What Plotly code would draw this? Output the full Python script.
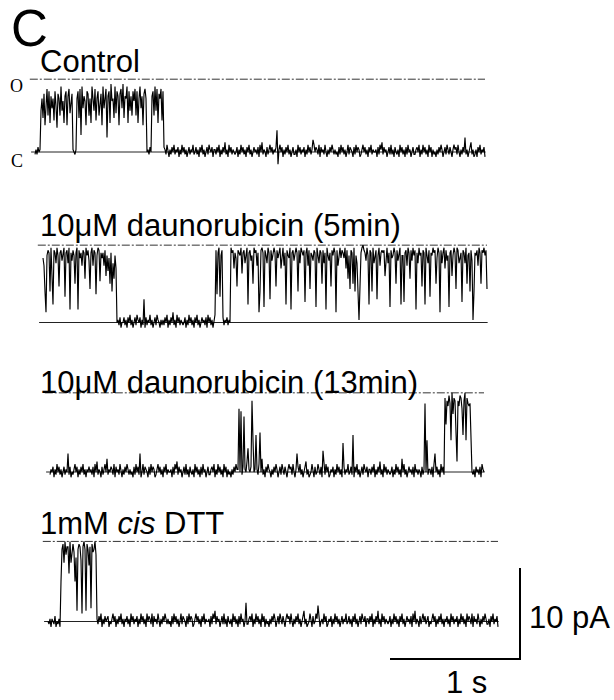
import plotly.graph_objects as go

# ---------------- data ----------------
LABELS = ["Control", "10μM daunorubicin (5min)", "10μM daunorubicin (13min)", "1mM <i>cis</i> DTT"]
OPEN_PA = [8.0, 8.5, 8.7, 8.8]          # unitary open level of each record, pA
SAMPLE_DT = 1 / 130                      # s between samples
# each character = one sample; base-36 code, 5 = closed, 35 = fully open
CODE = "0123456789abcdefghijklmnopqrstuvwxyz"
CLOSED_CODE, OPEN_CODE = 5, 35

TRACE_CONTROL = [
    "464756mrjtgqvkuhsnri", "uoftrkwmqhsugsvlpt65", "46rujvcwnsqgutkrhwom",
    "virukrtgwnqvbsuhxqrj", "wlusgtvnxjsrwhumskuq", "vkuhrwnsgtvr56475suk",
    "wmvhtrviu76485364758", "46573648574635746584", "57463758463574865736",
    "64758364759463857465", "45736485746375846357", "56473859465374685746",
    "57e06857364758463574", "463857465736485746a8", "57648375648536475864",
    "64537485746358476537", "48576346857463758465", "56374869475635748463",
    "75463857463748563574", "46758364857463857364", "53647586357486475368",
    "6748536475b463579463", "46375846573",
]
TRACE_DAUNO_5 = [
    "urh9vxwhyqcxwsyvjwxt", "vyfwxsyawtxvkwyaxuwr", "xwmyvxtiwyrxwgvyxlwu",
    "wrxnvpukwhsmvq564735", "57463758463574865736", "4e374658463574865364",
    "64758364759463857465", "45736485746375846357", "5647385746358xgwyfvx",
    "74657465ywxqwujxwvyo", "wxsvycwxtvkywxrw9hxy", "wbxvsywextvywjxuwyqv",
    "yrwcxvuyawxtvywhxsyw", "vxdwyrxiwvtxwbyvsxwk", "xswayvtwjxvyw9xrwyux",
    "wuyqxmvixwkyhvsc6jwy", "zxwtyvcxwhyswxevyrwx", "wxnvyswbxuvywkxtwycv",
    "vdwxrywmxtyvxawsyvwj", "xwcyvsxfwvywxkuyw9xs", "wyqxtvbwxnvywiyxsvwd",
    "xwsykvwhxt6hwvxrywkx", "wyvxi",
]
TRACE_DAUNO_13 = [
    "465736485746357465c4", "73546857364758463657", "56473859465374685a46",
    "57648375648536475864", "6453748574c358476537", "48576346857463758465",
    "56374869475635748463", "75463857463748563574", "46758364857463857364",
    "536475866t5s47q659e6", "57wh56j648k5a4637586", "53647586357486475368",
    "6748536c758463579463", "4586374586473d648573", "4657364857463g746584",
    "574j3758463574865736", "64758364759463857465", "457364857463a5846357",
    "564738564653746v5h46", "64738c574638574xnwuy", "vhzrxwk9wuyxtjwzhxvu",
    "vg5463756473865",
]
TRACE_DTT = [
    "5463654735463kwyrzux", "xnzrwyvkt9wyxs8xzw9y", "wqxayvwzu64758364756",
    "73546857364758463657", "46385746573648574638", "57648375648536475864",
    "64537485746358476537", "48576346857463758465", "56374869475635748463",
    "754638574637485635c4", "46758364857463857364", "53647586357486475368",
    "67485364758463579463", "4586374586b735648573", "46573648574635746584",
    "57463758463574865736", "64758364759463857465", "45736485746375846357",
    "56473859465374685746", "73546857364758463657", "46385746573648574638",
    "57648375648536475864", "46375846573",
]
TRACES = [TRACE_CONTROL, TRACE_DAUNO_5, TRACE_DAUNO_13, TRACE_DTT]

SCALE_T = 1.0     # s
SCALE_I = 10.0    # pA

# ---------------- layout (pixel geometry of the page) ----------------
W, H = 614, 700
PX_PER_S = 130.0
PX_PER_PA = 9.1
START_PX = [35, 43, 50, 48]          # left end of each record
BASE_PX = [152, 322.5, 472, 621.5]   # closed level of each record
LABEL_Y_PX = [61, 225.5, 382.5, 523]

def px_to_s(px):
    return px / PX_PER_S

def py_to_pa(py):
    return (H - py) / PX_PER_PA

fig = go.Figure()

for k, chunks in enumerate(TRACES):
    codes = "".join(chunks)
    frac = [(CODE.index(c) - CLOSED_CODE) / (OPEN_CODE - CLOSED_CODE) for c in codes]
    t0 = px_to_s(START_PX[k])
    base = py_to_pa(BASE_PX[k])
    t = [t0 + i * SAMPLE_DT for i in range(len(frac))]
    y = [base + f * OPEN_PA[k] for f in frac]
    t_end = t[-1]
    fig.add_trace(go.Scatter(x=[t0 - 0.03, t_end + 0.005], y=[base, base], mode="lines",
                             line=dict(color="#222", width=1), hoverinfo="skip"))
    fig.add_trace(go.Scatter(x=[t0 - 0.04, t_end], y=[base + OPEN_PA[k]] * 2, mode="lines",
                             line=dict(color="#333", width=1, dash="8px,2px,2px,2px"),
                             hoverinfo="skip"))
    fig.add_trace(go.Scatter(x=t, y=y, mode="lines", line=dict(color="black", width=1.15),
                             hoverinfo="skip"))

# scale bars
bar_x = px_to_s(520)
bar_y = py_to_pa(659)
fig.add_trace(go.Scatter(x=[bar_x - SCALE_T, bar_x, bar_x], y=[bar_y, bar_y, bar_y + SCALE_I],
                         mode="lines", line=dict(color="black", width=2), hoverinfo="skip"))

SANS = "Liberation Sans, Arial, sans-serif"
SERIF = "Liberation Serif, Times New Roman, serif"

def ann(text, xpx, ypx, size, family=SANS, xanchor="left"):
    fig.add_annotation(text=text, x=xpx / W, y=1 - ypx / H,
                       xref="paper", yref="paper",
                       xanchor=xanchor, yanchor="middle", showarrow=False,
                       font=dict(family=family, size=size, color="black"))

ann("C", 9, 29, 51)
for k, lab in enumerate(LABELS):
    ann(lab, 38, LABEL_Y_PX[k], 31)
ann("O", 16.5, 86, 18, SERIF, "center")
ann("C", 16.5, 161, 18, SERIF, "center")
ann("10 pA", 527, 617, 31)
ann("1 s", 444, 682, 31)

fig.update_layout(
    width=W, height=H, autosize=False,
    margin=dict(l=0, r=0, t=0, b=0, pad=0),
    paper_bgcolor="white", plot_bgcolor="white",
    showlegend=False,
    xaxis=dict(range=[0, px_to_s(W)], visible=False, fixedrange=True),
    yaxis=dict(range=[py_to_pa(H), py_to_pa(0)], visible=False, fixedrange=True),
)

fig.write_html("out.html", config={"displayModeBar": False},
               post_script="document.body.style.margin='0';document.body.style.overflow='hidden';")
